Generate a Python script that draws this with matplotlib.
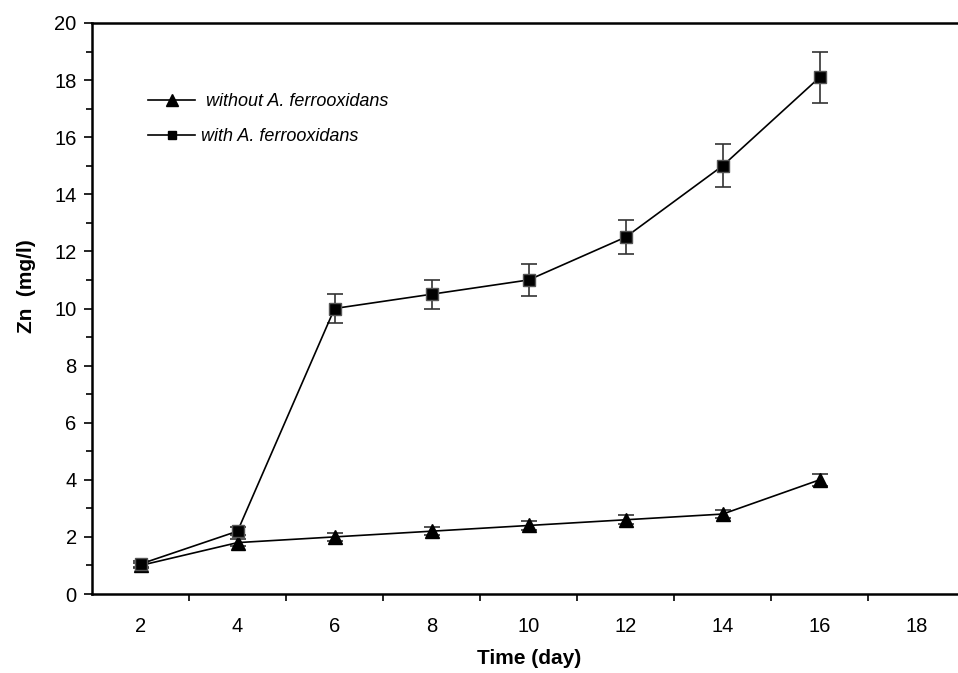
import numpy as np
import matplotlib.pyplot as plt
from matplotlib.lines import Line2D

plt.rcParams['font.family'] = ['Liberation Sans', 'DejaVu Sans']

# Data
days = [2, 4, 6, 8, 10, 12, 14, 16]
zn_without = [1.0, 1.8, 2.0, 2.2, 2.4, 2.6, 2.8, 4.0]
err_without = [0.1, 0.12, 0.15, 0.15, 0.15, 0.15, 0.15, 0.2]
zn_with = [1.05, 2.2, 10.0, 10.5, 11.0, 12.5, 15.0, 18.1]
err_with = [0.1, 0.15, 0.5, 0.5, 0.55, 0.6, 0.75, 0.9]
legend_labels = [' without A. ferrooxidans', 'with A. ferrooxidans']

fig = plt.figure(figsize=(9.58, 6.73), dpi=100)
ax = fig.add_axes([92/958, 79/673, 1 - 92/958, (594 - 23)/673])

ax.errorbar(days, zn_without, yerr=err_without, color='black', lw=1.2,
            marker='^', ms=10, ecolor='#333333', elinewidth=1.2, capsize=6,
            capthick=1.2)
ax.errorbar(days, zn_with, yerr=err_with, color='black', lw=1.2,
            marker='s', ms=9, mec='#555555', ecolor='#333333', elinewidth=1.2,
            capsize=6, capthick=1.2)

ax.set_xlim(1, 18.85)
ax.set_ylim(0, 20)

# x: labels on even days, tick marks on odd days
ax.set_xticks(range(2, 19, 2))
ax.set_xticks(range(3, 19, 2), minor=True)
ax.tick_params(axis='x', which='major', length=0, pad=16.5, labelsize=14.5)
ax.tick_params(axis='x', which='minor', length=5, width=1.2, direction='out')

ax.set_yticks(range(0, 21, 2))
ax.set_yticks(range(1, 20, 2), minor=True)
ax.tick_params(axis='y', which='major', length=6, width=1.2, pad=5,
               labelsize=14.5, direction='out')
ax.tick_params(axis='y', which='minor', length=4, width=1.2, direction='out')

ax.spines['right'].set_visible(False)
for s in ['left', 'bottom', 'top']:
    ax.spines[s].set_linewidth(1.8)

ax.set_xlabel('Time (day)', fontsize=15, fontweight='bold')
ax.set_ylabel('Zn  (mg/l)', fontsize=15, fontweight='bold')
ax.xaxis.set_label_coords(0.5046, -0.096)
ax.yaxis.set_label_coords(-0.065, 0.54)

handles = [Line2D([], [], color='black', lw=1.2, marker='^', ms=9),
           Line2D([], [], color='black', lw=1.2, marker='s', ms=6)]
ax.legend(handles, legend_labels, loc='upper left',
          bbox_to_anchor=(0.046, 0.905), frameon=False,
          handlelength=2.6, handletextpad=0.35, labelspacing=0.98,
          prop={'style': 'italic', 'size': 13})

fig.savefig('out.png', dpi=100)
